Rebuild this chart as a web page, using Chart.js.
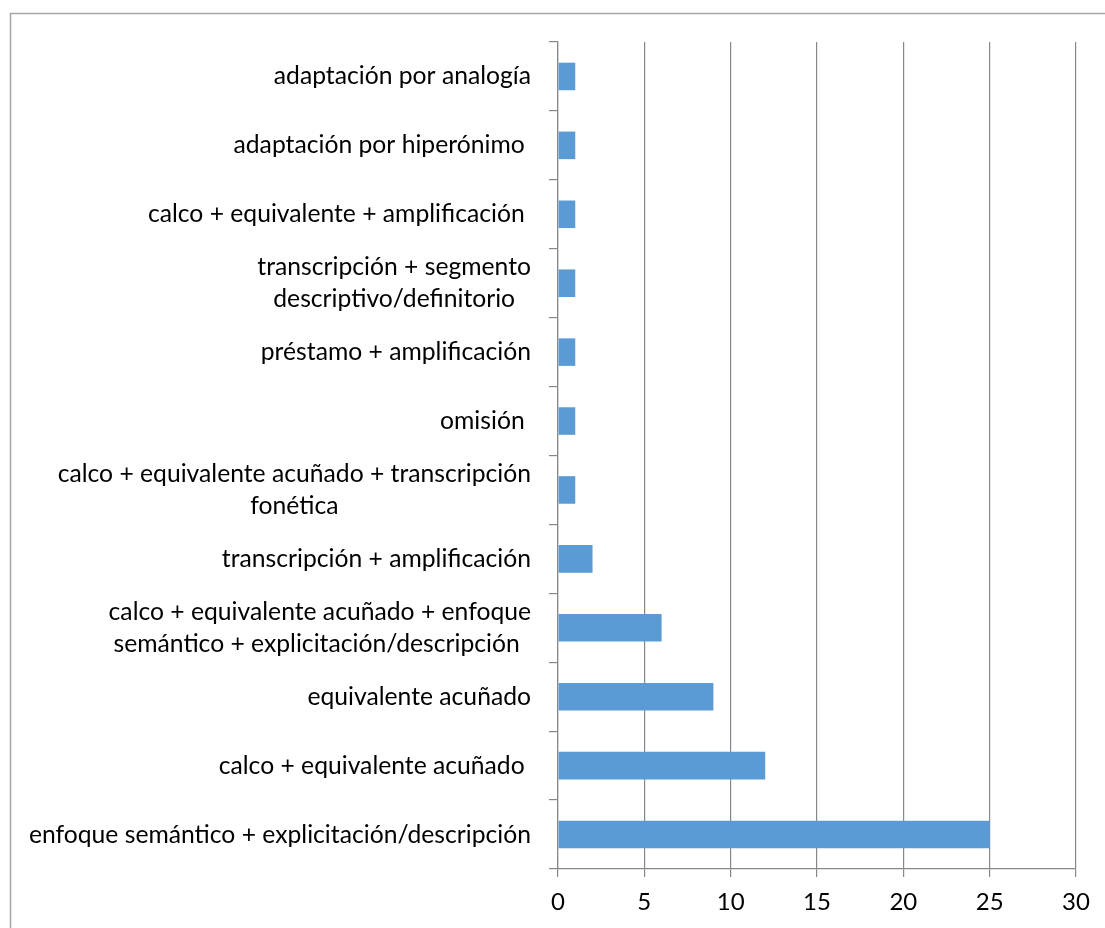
<!DOCTYPE html>
<html lang="es">
<head>
<meta charset="utf-8">
<title>Técnicas de traducción</title>
<script src="https://cdn.jsdelivr.net/npm/chart.js@4/dist/chart.umd.min.js"></script>
<style>
  html, body { margin: 0; padding: 0; background: #fff; }
  #wrap { position: relative; width: 1105px; height: 928px; }
</style>
</head>
<body>
<div id="wrap"><canvas id="myChart" width="1105" height="928"></canvas></div>
<script>
// categories, top to bottom (trailing spaces kept as in the source sheet)
const categories = [
  "adaptación por analogía",
  "adaptación por hiperónimo ",
  "calco + equivalente + amplificación ",
  ["transcripción + segmento", "descriptivo/definitorio"],
  "préstamo + amplificación",
  "omisión ",
  ["calco + equivalente acuñado + transcripción", "fonética"],
  "transcripción + amplificación",
  ["calco + equivalente acuñado + enfoque", "semántico + explicitación/descripción "],
  "equivalente acuñado",
  "calco + equivalente acuñado ",
  "enfoque semántico + explicitación/descripción"
];
const counts = [1, 1, 1, 1, 1, 1, 1, 2, 6, 9, 12, 25];
const xTicks = [0, 5, 10, 15, 20, 25, 30];

const FONT = "Lato, 'Open Sans', sans-serif";
const FONT_SIZE = 24.7;
const GRID = "#888888";

// outer frame of the chart object
const framePlugin = {
  id: "frame",
  beforeDraw(chart) {
    const c = chart.ctx;
    c.save();
    c.strokeStyle = "#a6a6a6";
    c.lineWidth = 1.5;
    c.beginPath();
    c.moveTo(10.5, 928);
    c.lineTo(10.5, 13.5);
    c.lineTo(1105, 13.5);
    c.stroke();
    c.restore();
  }
};

// category labels: block right-aligned next to the axis, lines centred in the block
const labelPlugin = {
  id: "catLabels",
  afterDraw(chart) {
    const c = chart.ctx;
    const y = chart.scales.y;
    const right = y.right - 27;
    c.save();
    c.font = FONT_SIZE + "px " + FONT;
    c.fillStyle = "#000";
    c.textAlign = "center";
    c.textBaseline = "middle";
    categories.forEach((lab, i) => {
      const lines = Array.isArray(lab) ? lab : [lab];
      const w = Math.max(...lines.map(l => c.measureText(l).width));
      const cx = right - w / 2;
      const cy = y.getPixelForValue(i);
      lines.forEach((l, j) => {
        c.fillText(l, cx, cy + (j - (lines.length - 1) / 2) * 32);
      });
    });
    c.restore();
  }
};

const ctx = document.getElementById("myChart").getContext("2d");

new Chart(ctx, {
  type: "bar",
  data: {
    labels: categories,
    datasets: [
      {
        data: counts,
        backgroundColor: "#5b9bd5",
        borderWidth: 0,
        barPercentage: 0.4,
        categoryPercentage: 1.0
      }
    ]
  },
  options: {
    indexAxis: "y",
    responsive: false,
    animation: false,
    layout: { padding: { top: 42, right: 29, left: 0, bottom: 0 } },
    plugins: {
      legend: { display: false },
      tooltip: { enabled: false }
    },
    scales: {
      x: {
        min: 0,
        max: 30,
        afterBuildTicks(scale) {
          scale.ticks = xTicks.map(v => ({ value: v }));
        },
        afterFit(scale) { scale.height = 59; },
        grid: { color: GRID, lineWidth: 1.2, tickLength: 8 },
        border: { color: GRID, width: 1.2 },
        ticks: {
          color: "#000",
          padding: 11,
          maxRotation: 0,
          font: { family: FONT, size: 24 }
        }
      },
      y: {
        afterFit(scale) { scale.width = 558; },
        grid: { offset: true, drawOnChartArea: false, color: GRID, lineWidth: 1.2, tickLength: 9 },
        border: { color: GRID, width: 1.2 },
        ticks: { display: false }
      }
    }
  },
  plugins: [framePlugin, labelPlugin]
});
</script>
</body>
</html>
